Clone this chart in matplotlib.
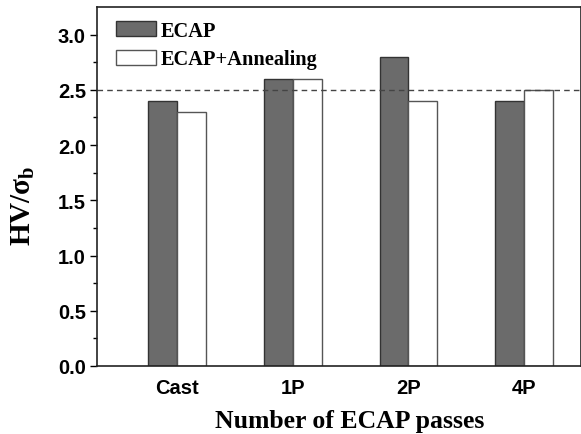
import matplotlib
matplotlib.use("Agg")
import matplotlib.pyplot as plt
import numpy as np

plt.rcParams["mathtext.fontset"] = "custom"
plt.rcParams["mathtext.rm"] = "Liberation Serif:bold"
plt.rcParams["mathtext.bf"] = "Liberation Serif:bold"
plt.rcParams["mathtext.it"] = "Liberation Serif:bold"

categories = ["Cast", "1P", "2P", "4P"]
ecap = [2.4, 2.6, 2.8, 2.4]
ecap_annealing = [2.3, 2.6, 2.4, 2.5]
reference_level = 2.5
y_ticks = [0.0, 0.5, 1.0, 1.5, 2.0, 2.5, 3.0]

fig = plt.figure(figsize=(5.81, 4.35), dpi=100)
ax = fig.add_axes([97 / 581, 1 - 367 / 435, (581 - 97) / 581, (367 - 8) / 435])

x = np.arange(len(categories))
w = 0.25
ax.bar(x - w / 2, ecap, w, color="#6b6b6b", edgecolor="#333333", linewidth=1.0,
       label="ECAP")
ax.bar(x + w / 2, ecap_annealing, w, color="white", edgecolor="#555555", linewidth=1.0,
       label="ECAP+Annealing")
ax.axhline(reference_level, color="#444444", linestyle=(0, (4, 3)), linewidth=1.0)

ax.set_xlim(-0.69, 3.49)
ax.set_ylim(0, 3.25)
ax.set_xticks(x)
ax.set_xticklabels(categories)
ax.set_yticks(y_ticks)
ax.set_yticklabels([f"{v:.1f}" for v in y_ticks])
ax.set_yticks(np.arange(0.25, 3.25, 0.5), minor=True)
ax.tick_params(axis="x", length=0, pad=9)
ax.tick_params(axis="y", which="major", direction="out", length=5, width=1, pad=3)
ax.tick_params(axis="y", which="minor", direction="out", length=3, width=1)
for lab in ax.get_xticklabels() + ax.get_yticklabels():
    lab.set_fontfamily("Liberation Sans")
    lab.set_fontweight("bold")
    lab.set_fontsize(14.5)

for s in ax.spines.values():
    s.set_linewidth(1.2)
    s.set_color("#222222")

ax.set_xlabel("Number of ECAP passes", fontfamily="Liberation Serif", fontweight="bold",
              fontsize=18.5)
ax.xaxis.set_label_coords((350 - 97) / 484, -(410 - 367) / 359)
ax.set_ylabel("HV/σ$_\\mathrm{b}$", fontfamily="Liberation Serif", fontweight="bold",
              fontsize=21)
ax.yaxis.set_label_coords(-(97 - 37) / 484, 0.45)

leg = ax.legend(loc="upper left", bbox_to_anchor=(19 / 484, 1 - 14 / 359), frameon=False,
                prop={"family": "Liberation Serif", "weight": "bold", "size": 14.7},
                handlelength=1.95, handleheight=0.75, handletextpad=0.25, labelspacing=0.4,
                borderaxespad=0.0, borderpad=0.0)

fig.savefig("out.png", dpi=100)
